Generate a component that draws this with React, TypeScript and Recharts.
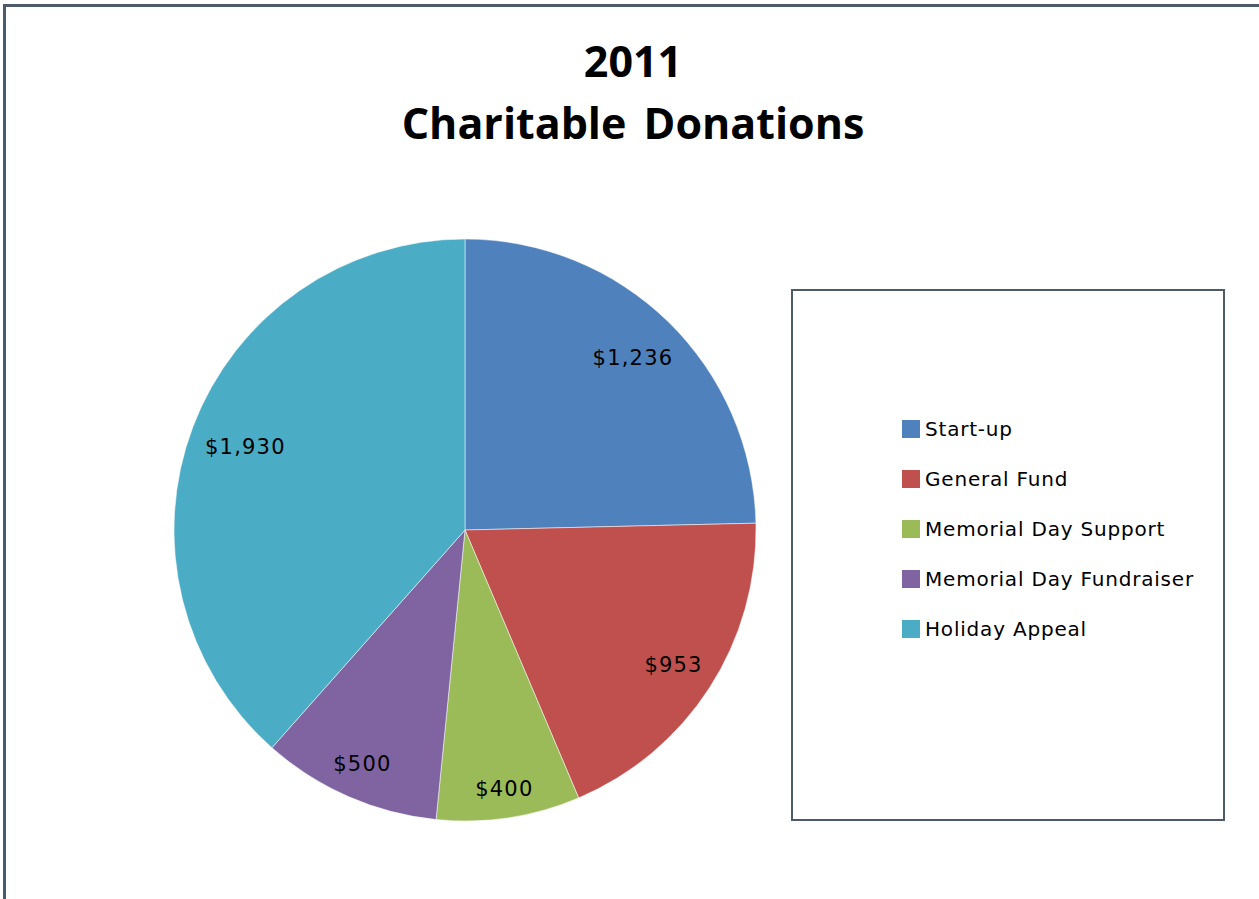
import React from 'react'
import { PieChart, Pie, Cell, Legend } from 'recharts'

const categories = ['Start-up', 'General Fund', 'Memorial Day Support', 'Memorial Day Fundraiser', 'Holiday Appeal']
const amounts = [1236, 953, 400, 500, 1930]
const colors = ['#4F81BD', '#C0504D', '#9BBB59', '#8064A2', '#4BACC6']

const data = categories.map((name, i) => ({ name, value: amounts[i] }))

const RADIAN = Math.PI / 180
const LABEL_FONT = 21

const formatMoney = (v: number) => '$' + v.toLocaleString('en-US')

// "inside end" style: push the label box out until it sits just inside the rim
const renderLabel = ({ cx, cy, midAngle, outerRadius, value }: any) => {
  const text = formatMoney(value)
  const halfW = text.length * LABEL_FONT * 0.33
  const halfH = 12
  const cos = Math.cos(-midAngle * RADIAN)
  const sin = Math.sin(-midAngle * RADIAN)
  const extent = halfW * Math.abs(cos) + halfH * Math.abs(sin)
  const r = outerRadius - 13 - extent
  return (
    <text
      x={cx + r * cos}
      y={cy + r * sin}
      fill="#000"
      textAnchor="middle"
      dominantBaseline="central"
      fontFamily="DejaVu Sans"
      fontSize={LABEL_FONT}
      letterSpacing={1.2}
    >
      {text}
    </text>
  )
}

const LegendBox = () => (
  <div
    style={{
      boxSizing: 'border-box',
      width: 434,
      height: 532,
      border: '2px solid #4D5B69',
      background: '#fff',
      paddingTop: 113,
      paddingLeft: 109,
      fontFamily: 'DejaVu Sans',
      fontSize: 20,
      letterSpacing: 0.8,
      color: '#000'
    }}
  >
    {categories.map((c, i) => (
      <div key={c} style={{ height: 50, display: 'flex', alignItems: 'center' }}>
        <span style={{ width: 18, height: 18, background: colors[i], display: 'inline-block', marginRight: 5 }} />
        <span>{c}</span>
      </div>
    ))}
  </div>
)

export default function App() {
  return (
    <div style={{ position: 'absolute', left: 0, top: 0, width: 1259, height: 899, background: '#fff', overflow: 'hidden' }}>
      <div
        style={{
          position: 'absolute',
          left: 3,
          top: 4,
          width: 1300,
          height: 1000,
          borderTop: '3px solid #4D5B69',
          borderLeft: '3px solid #4D5B69'
        }}
      />
      <div
        style={{
          position: 'absolute',
          left: 0,
          top: 30,
          width: 1266,
          textAlign: 'center',
          fontFamily: 'Open Sans',
          fontWeight: 700,
          fontSize: 43,
          lineHeight: '62px',
          wordSpacing: 6,
          color: '#000'
        }}
      >
        <div>2011</div>
        <div>Charitable Donations</div>
      </div>
      <div style={{ position: 'absolute', left: 0, top: 0 }}>
        <PieChart width={1259} height={899} margin={{ top: 0, right: 0, bottom: 0, left: 0 }}>
          <Pie
            data={data}
            dataKey="value"
            nameKey="name"
            cx={465}
            cy={530}
            outerRadius={291}
            startAngle={90}
            endAngle={-270}
            stroke="#ffffff"
            strokeWidth={1}
            strokeOpacity={0.5}
            label={renderLabel}
            labelLine={false}
            isAnimationActive={false}
          >
            {data.map((d, i) => (
              <Cell key={d.name} fill={colors[i]} />
            ))}
          </Pie>
          <Legend
            content={<LegendBox />}
            wrapperStyle={{ left: 791, top: 289, width: 434, height: 532, bottom: 'auto', right: 'auto' }}
          />
        </PieChart>
      </div>
    </div>
  )
}
